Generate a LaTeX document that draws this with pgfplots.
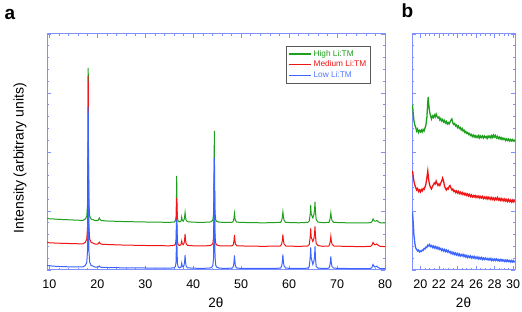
\documentclass[border=0pt]{standalone}
\usepackage{pgfplots}
\pgfplotsset{compat=1.18}
\usepackage{fontspec}
\setmainfont{Liberation Sans}
\definecolor{axcol}{RGB}{128,144,255}
\definecolor{cgreen}{RGB}{30,160,30}
\definecolor{cred}{RGB}{240,20,20}
\definecolor{cblue}{RGB}{60,100,255}
\definecolor{lblue}{RGB}{80,120,255}
\pgfplotsset{
 myax/.style={
  scale only axis, height=236pt, ymin=0, ymax=236,
  axis line style={axcol, line width=1pt},
  tick style={axcol, line width=0.6pt},
  tick align=inside, major tick length=4pt, minor tick length=2pt,
  ytick={0,59,118,177,236}, minor y tick num=4, yticklabels={},
  /pgf/number format/assume math mode=true,
  tick label style={font=\fontsize{12.5}{14}\selectfont},
  xticklabel style={yshift=-6pt},
  xlabel style={font=\fontsize{13.5}{15}\selectfont, yshift=-2.5pt},
 }
}
\begin{document}
\begin{tikzpicture}
\useasboundingbox (0,0) rectangle (522pt,312pt);
\begin{axis}[myax, at={(47pt,42pt)}, anchor=south west, width=338pt,
  xmin=9.5, xmax=80, xtick={10,20,...,80}, minor x tick num=4,
  xlabel={2θ},
  legend entries={\textcolor{cgreen}{High Li:TM},\textcolor{cred}{Medium Li:TM},\textcolor{lblue}{Low Li:TM}},
  legend style={at={(0.707,0.949)}, anchor=north west, draw=black!65, line width=0.7pt,
    font=\fontsize{8.3}{8.3}\selectfont, inner xsep=2pt, inner ysep=2pt, row sep=-1pt,
    cells={anchor=west}},
  legend image code/.code={\draw[#1, line width=1.3pt] (0pt,0pt) -- (22pt,0pt);},
]
\addplot[cgreen, line width=1pt] table {
9.5 51.5
10 51.2
11 51
12 50.6
13 50.4
14 50.2
15 50
16 49.8
17 49.6
17.5 51
17.8 54
17.95 64.8
18.05 125.8
18.1 202
18.15 125.8
18.25 64.8
18.4 54
18.7 51
19.5 49.5
20.1 49.3
20.3 51
20.4 52
20.5 51
20.8 49.5
22 49
25 48.5
28 48.2
30 48
33 47.8
35 47.6
36.0 48
36.25 49
36.4 52.2
36.5 70.7
36.55 94
36.6 70.7
36.7 52.1
36.85 49
37.1 48.2
37.4 48.5
37.5 50
37.6 53
37.7 50
37.9 48.8
38.1 50.5
38.2 53
38.3 57.5
38.4 53
38.5 50
38.8 48.3
40 47.8
42 47.6
43.5 48
43.9 49
44.1 50.2
44.25 56.6
44.35 93.2
44.4 139
44.45 93.2
44.55 56.6
44.7 50.2
44.9 48.5
45.5 47.8
47 47.5
48.2 47.8
48.4 49.5
48.5 52
48.6 56.5
48.7 52
48.8 49.5
49.1 47.8
52 47.3
55 47.2
58.2 47.6
58.45 49.5
58.6 53.5
58.7 58
58.8 53.5
58.95 49.5
59.3 47.6
62 47.2
63.9 47.6
64.2 49
64.4 56
64.5 65
64.6 56
64.95 52
65.2 56
65.3 60
65.4 68
65.5 58
65.65 50.5
66 48
67 47.3
68.3 47.6
68.5 50
68.6 53
68.7 57
68.8 53
68.95 49.5
69.3 47.6
72 47.2
75 47
77 47.3
77.3 48.5
77.5 51
77.7 49.5
77.9 48.8
78.1 49
78.3 49.5
78.5 48.5
79 47.2
80 47
};
\addplot[cred, line width=1pt] table {
9.5 27.5
10 27.2
11 27
12 26.8
13 26.6
14 26.5
15 26.4
16 26.2
17 26.1
17.5 27.7
17.8 31
17.95 42.8
18.05 110
18.1 194
18.15 110
18.25 42.8
18.4 31
18.7 27.7
19.5 26
20.1 25.8
20.3 27
20.4 27.8
20.5 27
20.8 25.8
22 25.5
25 25
28 24.7
30 24.5
33 24.3
35 24.2
36.0 24.6
36.25 25.4
36.4 28.8
36.5 48
36.55 72
36.6 48
36.7 28.8
36.85 25.4
37.1 24.6
37.4 25
37.5 26.5
37.6 29
37.7 26.5
37.9 25.3
38.1 27
38.2 30
38.3 36
38.4 30
38.5 26.5
38.8 24.6
40 24.2
42 24
43.5 24.4
43.9 25.4
44.1 26.6
44.25 32.8
44.35 68
44.4 112
44.45 68
44.55 32.8
44.7 26.6
44.9 25
45.5 24.2
47 24
48.2 24.3
48.4 26
48.5 29.5
48.6 35
48.7 29.5
48.8 26
49.1 24.2
52 23.8
55 23.7
58.2 24
58.45 26
58.6 29.7
58.7 35.5
58.8 29.7
58.95 26
59.3 24
62 23.6
63.9 24
64.2 25.5
64.4 33
64.5 41.5
64.6 33
64.95 28.5
65.2 32
65.3 36
65.4 43.5
65.5 34
65.65 26.5
66 24.5
67 23.7
68.3 24
68.5 26.5
68.6 29
68.7 33.5
68.8 29
68.95 26
69.3 24
72 23.6
75 23.4
77 23.6
77.3 25
77.5 27.5
77.7 26
77.9 25.2
78.1 25.6
78.3 26
78.5 25
79 23.6
80 23.4
};
\addplot[cblue, line width=1pt] table {
9.5 4.5
10 4.3
10.5 4
11 3.8
12 3.5
13 3.4
14 3.2
15 3
16 3
17 3
17.5 4.6
17.8 7.8
17.95 19
18.05 83
18.1 163
18.15 83
18.25 19
18.4 7.8
18.7 4.6
19.5 3
20.1 2.8
20.3 3.5
20.4 4
20.5 3.3
20.8 2.7
22 2.5
25 2.2
28 2
30 2
33 1.8
35 1.8
36.0 2.2
36.25 3.2
36.4 6.6
36.5 26
36.55 50.3
36.6 26
36.7 6.6
36.85 3.2
37.1 2.2
37.4 2.5
37.5 4
37.6 6.8
37.7 4
37.9 2.8
38.1 5
38.2 8
38.3 14.8
38.4 8
38.5 4
38.8 2.2
40 1.8
42 1.6
43.5 2
43.9 3
44.1 4.8
44.25 12.6
44.35 56.8
44.4 112
44.45 56.8
44.55 12.6
44.7 4.8
44.9 2.8
45.5 1.8
47 1.6
48.2 2
48.4 4
48.5 8
48.6 14.6
48.7 8
48.8 4
49.1 1.8
52 1.5
55 1.5
58.2 1.8
58.45 4
58.6 8.5
58.7 15.5
58.8 8.5
58.95 4
59.3 1.8
62 1.5
63.9 1.8
64.2 3.5
64.4 12.5
64.5 22.5
64.6 12.5
64.95 5.5
65.2 9.5
65.3 13.5
65.4 23.5
65.5 11.5
65.65 3.5
66 2
67 1.5
68.3 1.8
68.5 4.5
68.6 7.5
68.7 13.5
68.8 7.5
68.95 3.5
69.3 1.8
72 1.5
75 1.3
77 1.5
77.3 2.8
77.5 5.5
77.7 3.8
77.9 3
78.1 3.3
78.3 3.8
78.5 2.8
79 1.4
80 1.3
};
\end{axis}
\begin{axis}[myax, at={(412pt,42pt)}, anchor=south west, width=103pt,
  xmin=19.1, xmax=30.2, xtick={20,22,...,30}, minor x tick num=3,
  xlabel={2θ},
]
\addplot[cgreen, line width=1.3pt] table {
19.15 165
19.2 160
19.3 150
19.4 145
19.5 142.5
19.6 139
19.7 141
19.8 137.5
19.9 139.5
20.0 138
20.1 140
20.2 138
20.3 140.5
20.4 139
20.5 142
20.6 145
20.7 152
20.8 168
20.85 173
20.9 166
21.0 158
21.1 154
21.2 151
21.3 154
21.4 152.5
21.5 155
21.6 153
21.7 156
21.8 153.5
21.9 152
22.0 153
22.1 150
22.2 151.5
22.3 149
22.4 150.5
22.5 148
22.6 149.5
22.7 147
22.8 148.5
22.9 146
23.0 147.5
23.1 146
23.2 148
23.3 150
23.4 151
23.5 147
23.6 145.5
23.7 146.5
23.8 144
23.9 145
24.0 142.5
24.1 144
24.2 141.5
24.3 142.5
24.4 140
24.5 141.5
24.6 139
24.7 140
24.8 137.5
24.9 138.5
25.0 136.5
25.1 137.5
25.2 135.5
25.3 136.5
25.4 134.5
25.5 135.5
25.6 133.5
25.7 135
25.8 133
25.9 134.5
26.0 132.5
26.1 134
26.2 132.5
26.3 134.5
26.4 132
26.5 134
26.6 132.5
26.7 134
26.8 132
26.9 134
27.0 132.5
27.1 133.5
27.2 131.5
27.3 134
27.4 132.5
27.5 134
27.6 132
27.7 134.5
27.8 132.5
27.9 135
28.0 133
28.1 134.5
28.2 132
28.3 133.5
28.4 131.5
28.5 133
28.6 131
28.7 132.5
28.8 130.5
28.9 132
29.0 130.5
29.1 131.5
29.2 129.5
29.3 131
29.4 129.5
29.5 131
29.6 129
29.7 130.5
29.8 129
29.9 130.5
30.0 129
30.1 130
30.2 128.5
};
\addplot[cred, line width=1.3pt] table {
19.15 99
19.2 96
19.3 89
19.4 85
19.5 82.5
19.6 80
19.7 81.5
19.8 78.5
19.9 80
20.0 78
20.1 80.5
20.2 79
20.3 81.5
20.4 80.5
20.5 83
20.6 86
20.7 92
20.8 99
20.9 90
21.0 85
21.1 82.5
21.2 81
21.3 83.5
21.4 85
21.5 87
21.6 86
21.7 89
21.8 86.5
21.9 84.5
22.0 86
22.1 84.5
22.2 87
22.3 89
22.4 92
22.5 89
22.6 84
22.7 81.5
22.8 80
22.9 82
23.0 81
23.1 83.5
23.2 84.5
23.3 82
23.4 80
23.5 81
23.6 78.5
23.7 79.5
23.8 77.5
23.9 79
24.0 77
24.1 78.5
24.2 76.5
24.3 78
24.4 76
24.5 77.5
24.6 75.5
24.7 77
24.8 75
24.9 76.5
25.0 74.5
25.1 76
25.2 74
25.3 75.5
25.4 73.5
25.5 75
25.6 73
25.7 74.5
25.8 73
25.9 74.5
26.0 72.5
26.1 74
26.2 72.5
26.3 74
26.4 72
26.5 73.5
26.6 72
26.7 73.5
26.8 71.5
26.9 73
27.0 71.5
27.1 73
27.2 71
27.3 73
27.4 71
27.5 72.5
27.6 70.5
27.7 72.5
27.8 70.5
27.9 72
28.0 70
28.1 72
28.2 70.5
28.3 72.5
28.4 70
28.5 71.5
28.6 69.5
28.7 71.5
28.8 69.5
28.9 71
29.0 69
29.1 71
29.2 69
29.3 70.5
29.4 68.5
29.5 70.5
29.6 68.5
29.7 70
29.8 68
29.9 70
30.0 68
30.1 69.5
30.2 68
};
\addplot[cblue, line width=1.3pt] table {
19.15 58
19.2 52
19.25 44
19.3 36
19.4 27
19.5 22
19.6 20.5
19.7 19
19.8 20
19.9 18
20.0 19
20.1 18.5
20.2 20
20.3 19.5
20.4 21.5
20.5 21
20.6 23
20.7 22.5
20.8 25
20.9 24
21.0 25.5
21.1 23.5
21.2 24.5
21.3 22.5
21.4 24
21.5 22
21.6 23.5
21.7 21.5
21.8 23
21.9 21
22.0 22.5
22.1 20.5
22.2 21.5
22.3 19.5
22.4 21
22.5 19
22.6 20.5
22.7 18.5
22.8 20
22.9 18
23.0 19.5
23.1 17.5
23.2 18.5
23.3 16.5
23.4 18
23.5 16
23.6 17.5
23.7 15.5
23.8 17
23.9 15
24.0 16.5
24.1 14.5
24.2 16
24.3 14
24.4 15.5
24.5 14
24.6 15.5
24.7 13.5
24.8 15
24.9 13
25.0 14.5
25.1 12.5
25.2 14
25.3 12.5
25.4 14
25.5 12
25.6 13.5
25.7 12
25.8 13.5
25.9 11.5
26.0 13
26.1 11.5
26.2 13
26.3 11
26.4 12.5
26.5 11
26.6 12.5
26.7 10.5
26.8 12
26.9 10.5
27.0 12
27.1 10.5
27.2 11.5
27.3 10
27.4 11.5
27.5 10
27.6 11.5
27.7 9.5
27.8 11
27.9 9.5
28.0 11
28.1 9.5
28.2 11
28.3 9.5
28.4 10.5
28.5 9
28.6 10.5
28.7 9
28.8 10.5
28.9 9
29.0 10
29.1 8.5
29.2 10
29.3 8.5
29.4 10
29.5 8.5
29.6 9.5
29.7 8
29.8 9.5
29.9 8
30.0 9.5
30.1 8
30.2 9
};
\end{axis}
\node[rotate=90, font=\fontsize{14}{16}\selectfont] at (20pt,154pt) {Intensity (arbitrary units)};
\node[anchor=base west, font=\fontsize{19}{21}\bfseries] at (1pt,292pt) {a};
\node[anchor=base west, font=\fontsize{19}{21}\bfseries] at (398pt,294pt) {b};
\end{tikzpicture}
\end{document}
